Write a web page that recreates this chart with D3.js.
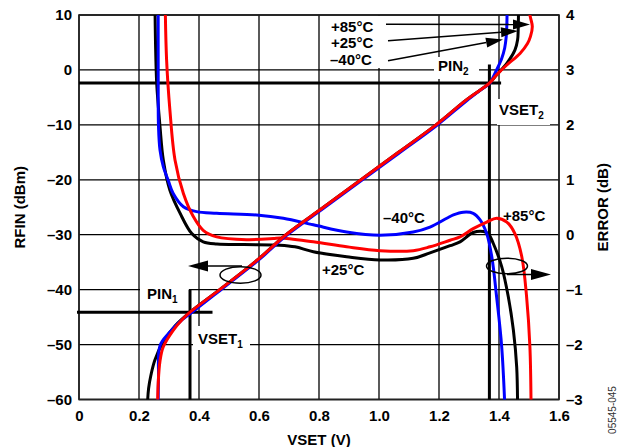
<!DOCTYPE html>
<html><head><meta charset="utf-8">
<script src="https://cdn.jsdelivr.net/npm/d3@7"></script>
<style>
body{margin:0;background:#fff;}
svg{display:block;}
text{font-family:"Liberation Sans",Arial,Helvetica,sans-serif;}
</style></head>
<body><svg id="c" width="622" height="447"></svg>
<script>
// ---------- data ----------
const xTicks = [0, 0.2, 0.4, 0.6, 0.8, 1.0, 1.2, 1.4, 1.6];
const xTickLabels = ["0", "0.2", "0.4", "0.6", "0.8", "1.0", "1.2", "1.4", "1.6"];
const rfinTicks = [10, 0, -10, -20, -30, -40, -50, -60];
const errTicks = [4, 3, 2, 1, 0, -1, -2, -3];

// RFIN (dBm) vs VSET (V)  [V, dBm]
const rfinM40 = [[0.264,-61],[0.265,-56],[0.27,-50.2],[0.30,-47.9],[0.335,-45.9],[0.372,-44.3],[0.47,-40.15],[0.60,-34.55],[0.69,-30.2],[0.815,-25.2],[0.94,-20.2],[1.065,-15.2],[1.19,-10.2],[1.29,-5.7],[1.345,-3.4],[1.37,-2.4],[1.378,-1.6],[1.392,0],[1.409,2.1],[1.419,4],[1.424,6],[1.426,8],[1.427,11]];
const rfinP25 = [[0.228,-61],[0.232,-58],[0.24,-55.5],[0.253,-52.8],[0.281,-49.5],[0.32,-46.6],[0.37,-44.1],[0.47,-39.95],[0.60,-34.35],[0.69,-30],[0.815,-25],[0.94,-20],[1.065,-15],[1.19,-10],[1.29,-5.5],[1.368,-2.4],[1.392,-0.9],[1.426,1.2],[1.453,3.6],[1.462,5.5],[1.464,7.3],[1.465,11]];
const rfinP85 = [[0.262,-61],[0.264,-57],[0.27,-53],[0.281,-50.4],[0.314,-47.4],[0.345,-45.4],[0.37,-44.1],[0.47,-39.95],[0.60,-34.35],[0.69,-30],[0.815,-25],[0.94,-20],[1.065,-15],[1.19,-10],[1.29,-5.5],[1.368,-2.4],[1.392,-0.9],[1.426,0.9],[1.47,3.0],[1.495,4.8],[1.505,6.1],[1.511,7.9],[1.506,9.3],[1.498,11]];

// ERROR (dB) vs VSET (V)  [V, dB]
const errM40 = [[0.264,4.3],[0.264,2.76],[0.265,1.97],[0.27,1.54],[0.281,1.24],[0.298,0.98],[0.314,0.75],[0.348,0.51],[0.392,0.42],[0.459,0.39],[0.592,0.36],[0.681,0.30],[0.781,0.18],[0.892,0.05],[1.003,-0.01],[1.114,0.05],[1.17,0.14],[1.226,0.30],[1.248,0.36],[1.281,0.41],[1.314,0.39],[1.337,0.27],[1.359,0.02],[1.376,-0.4],[1.392,-1.13],[1.409,-2.04],[1.42,-3.2]];
const errP25 = [[0.253,4.3],[0.255,3.5],[0.259,2.76],[0.27,1.97],[0.281,1.36],[0.303,0.81],[0.337,0.39],[0.376,0.02],[0.414,-0.13],[0.46,-0.17],[0.55,-0.18],[0.67,-0.19],[0.72,-0.22],[0.781,-0.31],[0.892,-0.4],[1.003,-0.46],[1.114,-0.43],[1.17,-0.33],[1.237,-0.2],[1.27,-0.13],[1.314,0.04],[1.348,0.06],[1.364,0.02],[1.381,-0.16],[1.409,-0.58],[1.431,-1.13],[1.448,-1.74],[1.459,-2.41],[1.462,-3.2]];
const errP85 = [[0.287,4.3],[0.292,3.18],[0.303,2.27],[0.32,1.36],[0.348,0.75],[0.381,0.33],[0.414,0.08],[0.459,-0.04],[0.559,-0.09],[0.648,-0.07],[0.67,-0.06],[0.781,-0.13],[0.892,-0.22],[1.003,-0.29],[1.114,-0.29],[1.17,-0.22],[1.237,-0.1],[1.27,-0.04],[1.314,0.11],[1.359,0.23],[1.392,0.30],[1.426,0.23],[1.453,0.02],[1.476,-0.40],[1.492,-1.13],[1.503,-2.04],[1.507,-3.2]];

const seriesColors = {m40:"#0000ff", p25:"#000000", p85:"#ff0000"};
// reference points
const pin1 = -44.1, vset1 = 0.37;
const pin2 = -2.4, vset2 = 1.368;

// ---------- layout ----------
const L = 79, R = 559, T = 15, B = 399.5;
const svg = d3.select("#c");
const x = d3.scaleLinear().domain([0,1.6]).range([L,R]);
const yL = d3.scaleLinear().domain([-60,10]).range([B,T]);
const yR = d3.scaleLinear().domain([-3,4]).range([B,T]);
const fmt = v => (v<0 ? "\u2013"+Math.abs(v) : String(v));

// grid
const grid = svg.append("g");
grid.selectAll("line.v").data(xTicks).join("line")
  .attr("x1",d=>x(d)).attr("x2",d=>x(d)).attr("y1",T).attr("y2",B)
  .attr("stroke","#000").attr("stroke-width",1.3);
grid.selectAll("line.h").data(rfinTicks).join("line")
  .attr("x1",L).attr("x2",R).attr("y1",d=>yL(d)).attr("y2",d=>yL(d))
  .attr("stroke","#000").attr("stroke-width",1.3);
svg.append("rect").attr("x",L).attr("y",T).attr("width",R-L).attr("height",B-T)
  .attr("fill","none").attr("stroke","#222").attr("stroke-width",1.6);

// axes (labels only)
const tickFont = g => g.selectAll("text").attr("font-size","15px").attr("font-weight","bold").attr("fill","#000")
  .style("font-family","'Liberation Sans',Arial,sans-serif");
const ax = svg.append("g").attr("transform",`translate(0,${B})`)
  .call(d3.axisBottom(x).tickValues(xTicks).tickFormat((d,i)=>xTickLabels[i]).tickSize(0).tickPadding(11));
ax.select(".domain").remove(); tickFont(ax);
const ayl = svg.append("g").attr("transform",`translate(${L},0)`)
  .call(d3.axisLeft(yL).tickValues(rfinTicks).tickFormat(fmt).tickSize(0).tickPadding(7));
ayl.select(".domain").remove(); tickFont(ayl);
const ayr = svg.append("g").attr("transform",`translate(${R},0)`)
  .call(d3.axisRight(yR).tickValues(errTicks).tickFormat(fmt).tickSize(0).tickPadding(7));
ayr.select(".domain").remove(); tickFont(ayr);

// axis titles
svg.append("text").attr("x",(L+R)/2).attr("y",445).attr("text-anchor","middle")
  .attr("font-size","15px").attr("font-weight","bold").text("VSET (V)");
svg.append("text").attr("transform",`translate(25,${(T+B)/2}) rotate(-90)`).attr("text-anchor","middle")
  .attr("font-size","15px").attr("font-weight","bold").text("RFIN (dBm)");
svg.append("text").attr("transform",`translate(608,${(T+B)/2}) rotate(-90)`).attr("text-anchor","middle")
  .attr("font-size","15px").attr("font-weight","bold").text("ERROR (dB)");
svg.append("text").attr("transform",`translate(616,410) rotate(-90)`).attr("text-anchor","middle")
  .attr("font-size","10px").attr("fill","#333").text("05545-045");

// white label backgrounds (break grid lines)
const bg = [[329,16,52,52],[140,283,49,14],[193,326,57,24],[434,57,45,22],[497,99,53,26]];
svg.append("g").selectAll("rect").data(bg).join("rect")
  .attr("x",d=>d[0]).attr("y",d=>d[1]).attr("width",d=>d[2]).attr("height",d=>d[3]).attr("fill","#fff");

// reference lines
const ref = svg.append("g").attr("stroke","#000").attr("stroke-width",3);
ref.append("line").attr("x1",L-2).attr("x2",x(0.445)).attr("y1",yL(pin1)).attr("y2",yL(pin1));
ref.append("line").attr("x1",x(vset1)).attr("x2",x(vset1)).attr("y1",yL(-40)).attr("y2",B);
ref.append("line").attr("x1",L).attr("x2",x(1.407)).attr("y1",yL(pin2)).attr("y2",yL(pin2));
ref.append("line").attr("x1",x(vset2)).attr("x2",x(vset2)).attr("y1",yL(1)).attr("y2",B);

// curves
svg.append("defs").append("clipPath").attr("id","clip").append("rect")
  .attr("x",L).attr("y",T).attr("width",R-L).attr("height",B-T);
const curves = svg.append("g").attr("clip-path","url(#clip)");
const lineL = d3.line().x(d=>x(d[0])).y(d=>yL(d[1])).curve(d3.curveCatmullRom.alpha(0.5));
const lineR = d3.line().x(d=>x(d[0])).y(d=>yR(d[1])).curve(d3.curveCatmullRom.alpha(0.5));
const draw = (data, gen, col) => curves.append("path").datum(data).attr("d",gen)
  .attr("fill","none").attr("stroke",col).attr("stroke-width",3).attr("stroke-linejoin","round");
draw(errP25, lineR, seriesColors.p25);
draw(errM40, lineR, seriesColors.m40);
draw(errP85, lineR, seriesColors.p85);
draw(rfinP25, lineL, seriesColors.p25);
draw(rfinM40, lineL, seriesColors.m40);
draw(rfinP85, lineL, seriesColors.p85);

// labels
const lab = (tx,ty,t,sub,size) => {
  const el = svg.append("text").attr("x",tx).attr("y",ty).attr("font-size",(size||15)+"px").attr("font-weight","bold");
  el.append("tspan").text(t);
  if (sub) el.append("tspan").attr("font-size","10px").attr("dy",4).text(sub);
  return el;
};
lab(331,31.5,"+85°C");
lab(331,48,"+25°C");
lab(330,64.5,"\u201340°C");
lab(147,298.5,"PIN","1");
lab(198,344,"VSET","1");
lab(438,70.5,"PIN","2");
lab(499,115,"VSET","2");
lab(383,223,"\u201340°C");
lab(322,275,"+25°C");
lab(503,220.5,"+85°C");

// arrows
const arrow = (x1,y1,x2,y2,len,hw) => {
  const a = Math.atan2(y2-y1,x2-x1);
  const bx = x2 - len*Math.cos(a), by = y2 - len*Math.sin(a);
  svg.append("line").attr("x1",x1).attr("y1",y1).attr("x2",bx).attr("y2",by).attr("stroke","#000").attr("stroke-width",1.5);
  const px = -Math.sin(a)*hw, py = Math.cos(a)*hw;
  svg.append("path").attr("d",`M${x2},${y2}L${bx+px},${by+py}L${bx-px},${by-py}Z`).attr("fill","#000");
};
arrow(386,24.3,530,24.5,17,5);
arrow(388,40.7,518,31,17,5);
arrow(388,60.7,503,39.5,17,5);
arrow(242,266,188,266,20,5.5);
arrow(507,274.5,551,274.5,20,5.5);
svg.append("ellipse").attr("cx",240.5).attr("cy",275).attr("rx",20.5).attr("ry",8.3).attr("fill","none").attr("stroke","#000").attr("stroke-width",1.5);
svg.append("ellipse").attr("cx",507).attr("cy",266).attr("rx",20.5).attr("ry",7.8).attr("fill","none").attr("stroke","#000").attr("stroke-width",1.5);
</script></body></html>
